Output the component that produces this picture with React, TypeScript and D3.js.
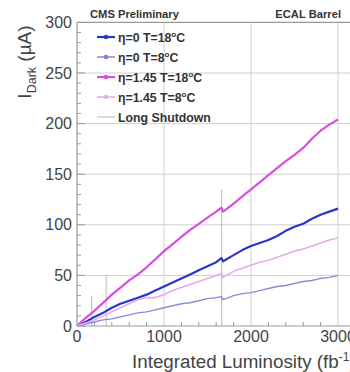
import React from "react";
import * as d3 from "d3";

const lumi = [0,100,200,300,400,500,600,700,800,900,1000,1100,1200,1300,1400,1500,1600,1660,1680,1800,1900,2000,2100,2200,2300,2400,2500,2600,2700,2800,2900,3000];
const eta0T18 = [0,4,9,13,18,22,25,28,31,35,39,43,47,51,55,59,63,67,64,70,75,79,82,85,89,94,98,101,106,110,113,116];
const eta0T8 = [0,2,4,6,7,9,11,13,14,16,18,20,22,23,25,27,28,29,26,30,32,33,35,37,39,40,42,44,45,47,48,50];
const eta145T18 = [0,8,15,23,31,38,45,51,58,66,74,81,88,95,101,107,113,117,113,121,128,135,142,149,156,163,169,176,185,193,199,204];
const eta145T8 = [0,3,6,10,14,18,22,26,28,28,31,35,38,41,44,47,50,52,48,54,57,60,63,65,68,71,74,76,79,82,85,87];
const shutdownLumi = [170, 335, 1663];
const shutdownTop = [30, 50, 135];
const xTicks = [0, 1000, 2000, 3000];
const yTicks = [0, 50, 100, 150, 200, 250, 300];
const legendLabels = ["η=0 T=18", "η=0 T=8", "η=1.45 T=18", "η=1.45 T=8"];

const FONT = "Liberation Sans, Arial, Helvetica, sans-serif";

export default function App() {
  const x = d3.scaleLinear().domain([0, 3000]).range([77, 338]);
  const y = d3.scaleLinear().domain([0, 300]).range([326, 22.4]);
  const xr = 352;

  const series = [
    { vals: eta0T18, color: "#2b35c8", w: 2.2, op: 1 },
    { vals: eta0T8, color: "#7a80d0", w: 1.4, op: 0.9 },
    { vals: eta145T18, color: "#d84ee0", w: 2.2, op: 1 },
    { vals: eta145T8, color: "#e6aaee", w: 1.6, op: 1 },
  ];
  const line = (vals: number[]) =>
    d3.line<number>().x((_, i) => x(lumi[i])).y((v) => y(v))(vals) || "";

  const yMinor = d3.range(0, 301, 10).filter((v) => v % 50 !== 0);
  const xMinor = d3.range(0, 3101, 200).filter((v) => v % 1000 !== 0);

  return (
    <svg width={350} height={372} style={{ position: "absolute", left: 0, top: 0, background: "#fff" }} fontFamily={FONT}>
      <rect x={0} y={0} width={350} height={372} fill="#fff" />
      {yTicks.filter((v) => v > 0 && v < 300).map((v) => (
        <line key={"gy" + v} x1={x(0)} x2={xr} y1={y(v)} y2={y(v)} stroke="#d0d0d0" strokeWidth={1} />
      ))}
      {xTicks.filter((v) => v > 0).map((v) => (
        <line key={"gx" + v} x1={x(v)} x2={x(v)} y1={y(0)} y2={y(300)} stroke="#d0d0d0" strokeWidth={1} />
      ))}
      {yMinor.map((v) => (
        <line key={"my" + v} x1={x(0)} x2={x(0) + 4} y1={y(v)} y2={y(v)} stroke="#999" strokeWidth={1} />
      ))}
      {yTicks.map((v) => (
        <line key={"My" + v} x1={x(0)} x2={x(0) + 8} y1={y(v)} y2={y(v)} stroke="#999" strokeWidth={1} />
      ))}
      {xMinor.map((v) => (
        <line key={"mx" + v} x1={x(v)} x2={x(v)} y1={y(0)} y2={y(0) - 4} stroke="#999" strokeWidth={1} />
      ))}
      {shutdownLumi.map((l, i) => (
        <line key={"ls" + i} x1={x(l)} x2={x(l)} y1={y(0)} y2={y(shutdownTop[i])} stroke="#b8b8b8" strokeWidth={1} />
      ))}
      <line x1={x(0)} x2={x(0)} y1={y(0)} y2={y(300)} stroke="#999" strokeWidth={1.2} />
      <line x1={x(0)} x2={xr} y1={y(0)} y2={y(0)} stroke="#999" strokeWidth={1.2} />
      <line x1={x(0)} x2={xr} y1={y(300)} y2={y(300)} stroke="#999" strokeWidth={1.2} />
      {series.map((s, i) => (
        <path key={"s" + i} d={line(s.vals)} fill="none" stroke={s.color} strokeWidth={s.w} strokeOpacity={s.op} strokeLinejoin="round" />
      ))}
      {yTicks.map((v) => (
        <text key={"ty" + v} x={72} y={y(v) + 5.5} textAnchor="end" fontSize={16} fill="#444">{v}</text>
      ))}
      {xTicks.map((v) => (
        <text key={"tx" + v} x={x(v)} y={342} textAnchor="middle" fontSize={16} fill="#444">{v}</text>
      ))}
      <text x={132} y={368} fontSize={18.8} fill="#444">
        Integrated Luminosity (fb<tspan dy={-7} fontSize={12}>-1</tspan><tspan dy={7}>)</tspan>
      </text>
      <text transform="translate(31,62) rotate(-90)" textAnchor="middle" fontSize={19} fill="#444">
        I<tspan dy={5} fontSize={12.5}>Dark</tspan><tspan dy={-5}> (µA)</tspan>
      </text>
      <text x={90} y={18} fontSize={11.2} fontWeight="bold" fill="#333">CMS Preliminary</text>
      <text x={341} y={18} fontSize={11.2} fontWeight="bold" fill="#333" textAnchor="end">ECAL Barrel</text>
      {legendLabels.map((lab, i) => {
        const cy = 37 + i * 20;
        const s = series[i];
        return (
          <g key={"lg" + i}>
            <line x1={97} x2={115} y1={cy} y2={cy} stroke={s.color} strokeWidth={s.w} />
            <circle cx={106} cy={cy} r={2.3} fill={s.color} />
            <text x={118} y={cy + 4.5} fontSize={12.3} fontWeight="bold" fill="#333">
              {lab}<tspan dy={-5} fontSize={8}>o</tspan><tspan dy={5}>C</tspan>
            </text>
          </g>
        );
      })}
      <line x1={97} x2={115} y1={117} y2={117} stroke="#b8b8b8" strokeWidth={1} />
      <text x={118} y={121.5} fontSize={12.3} fontWeight="bold" fill="#333">Long Shutdown</text>
    </svg>
  );
}
